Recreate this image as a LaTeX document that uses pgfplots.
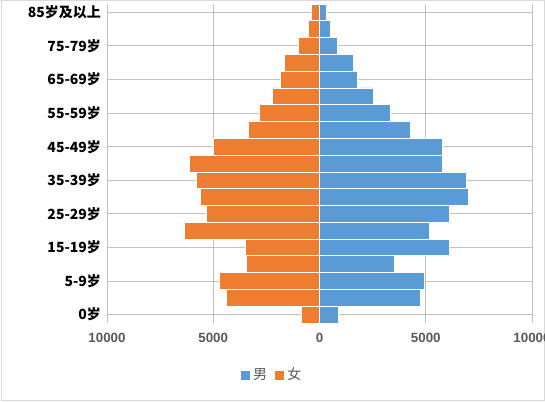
\documentclass[border=0pt]{standalone}
\usepackage{pgfplots}
\pgfplotsset{compat=1.18}
\usepackage{fontspec}
\setmainfont{Liberation Sans}
\newfontfamily\cjk{Noto Sans CJK SC}
\definecolor{male}{HTML}{5B9BD5}
\definecolor{female}{HTML}{ED7D31}
\definecolor{grid}{HTML}{D9D9D9}
\definecolor{tick}{HTML}{595959}
\begin{document}
\begin{tikzpicture}
  \useasboundingbox (0,0) rectangle (408.75pt,300.75pt);
  \draw[grid, line width=0.75pt] (0.75pt,0.75pt) rectangle (408pt,300pt);
  \begin{axis}[
      at={(80.25pt,58.5pt)}, anchor=south west,
      scale only axis,
      width=318.75pt, height=239.25pt,
      xbar, bar width=1, bar shift=0pt,
      xmin=-10000, xmax=10000,
      ymin=-0.5, ymax=18.5,
      scaled x ticks=false,
      xtick={-10000,-5000,0,5000,10000},
      xticklabels={10000,5000,0,5000,10000},
      ytick={0,2,...,18},
      yticklabels={0岁,5-9岁,15-19岁,25-29岁,35-39岁,45-49岁,55-59岁,65-69岁,75-79岁,85岁及以上},
      yticklabel style={font=\cjk\bfseries\fontsize{10.5pt}{12pt}\selectfont, text=black, xshift=-1pt},
      xticklabel style={font=\bfseries\fontsize{10pt}{12pt}\selectfont, text=tick, yshift=-4pt},
      major tick length=0pt,
      axis line style={draw=none},
      xmajorgrids, grid style={grid, line width=0.75pt},
      legend style={at={(0.388,-0.163)}, anchor=center, legend columns=-1,
        draw=none, fill=none, font=\cjk\fontsize{10.5pt}{12pt}\selectfont, text=tick,
        /tikz/every even column/.append style={column sep=3pt}},
      legend image code/.code={\fill[#1] (0pt,-3.75pt) rectangle (7.5pt,3.75pt);},
    ]
    % male
    \addplot[fill=male, draw=white, line width=0.6pt] coordinates {
      (880,0) (4740,1) (4930,2) (3530,3) (6110,4) (5160,5) (6110,6)
      (6990,7) (6910,8) (5780,9) (5780,10) (4280,11) (3330,12) (2530,13)
      (1780,14) (1600,15) (850,16) (510,17) (330,18)
    };
    % female
    \addplot[fill=female, draw=white, line width=0.6pt] coordinates {
      (-850,0) (-4380,1) (-4710,2) (-3430,3) (-3480,4) (-6360,5) (-5310,6)
      (-5610,7) (-5780,8) (-6110,9) (-4980,10) (-3330,11) (-2830,12) (-2210,13)
      (-1830,14) (-1650,15) (-1000,16) (-520,17) (-380,18)
    };
    \legend{男,女}
  \end{axis}
\end{tikzpicture}
\end{document}
